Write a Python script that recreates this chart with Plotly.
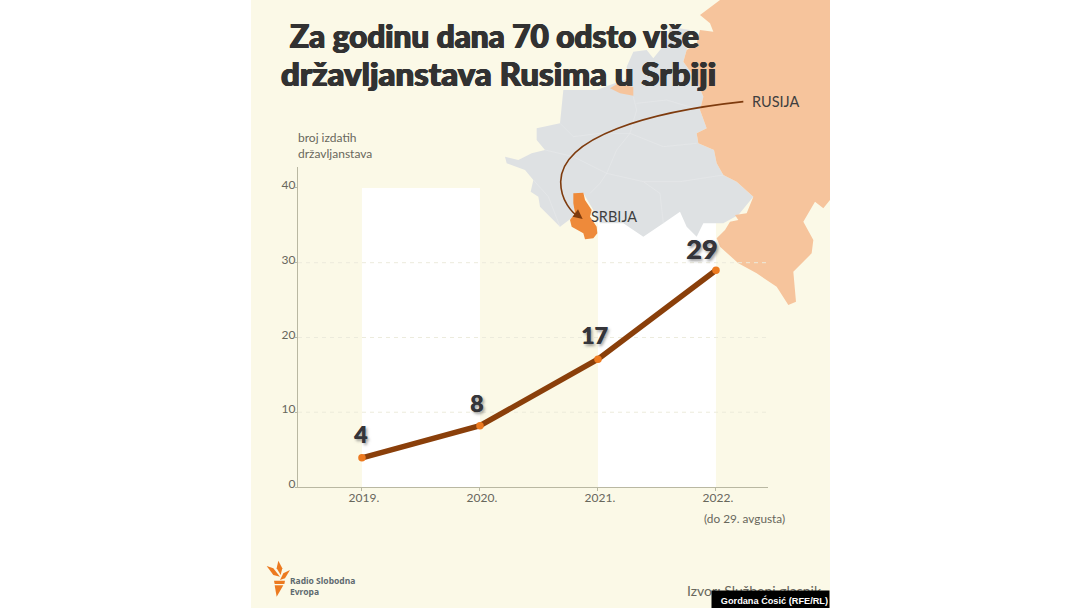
import plotly.graph_objects as go

# podaci
years = [2019, 2020, 2021, 2022]
values = [3.9, 8.2, 17.1, 29]
value_labels = ["4", "8", "17", "29"]
year_labels = ["2019.", "2020.", "2021.", "2022."]
y_ticks = [0, 10, 20, 30, 40]
grid_vals = [10, 20, 30]

W, H = 1080, 608
CREAM = "#FBF9E7"
TXT = "#68675C"
AXIS = "#B9B8A2"
BROWN = "#8A3F0A"
ORANGE = "#EC7A20"
FONT = "Lato"
Y_MAX = 42.8
Y_DOM = [(H - 487) / H, (H - 167) / H]

# karta - obrisi procitani s uvecanog isjecka (3x, pocetak 490,0)
russia = [(690,0),(1020,0),(1020,600),(1000,625),(975,605),(940,665),(970,720),(965,760),(910,815),
          (918,905),(895,915),(860,860),(800,820),(745,790),(690,740),(680,715),(705,690),(720,665),
          (745,660),(735,645),(770,640),(790,590),(740,545),(700,525),(680,490),(672,450),(625,430),
          (620,400),(650,385),(630,330),(640,290),(620,240),(580,185),(590,150),(620,130),(630,90),
          (670,95),(660,70),(630,45)]
grey = [(600,90),(540,80),(530,130),(510,150),(490,175),(470,150),(430,155),(410,200),(415,235),(360,255),
        (320,270),(220,270),(210,370),(140,385),(140,420),(165,450),(125,460),(85,480),(45,470),
        (50,490),(105,510),(130,540),(122,575),(145,590),(150,620),(210,680),(250,650),(255,580),
        (280,580),(310,630),(330,670),(400,670),(460,710),(520,670),(570,635),(590,680),(620,710),
        (640,670),(700,670),(745,645),(790,590),(740,545),(700,525),(680,490),(672,450),(625,430),
        (620,400),(650,385),(630,330),(640,290),(620,240),(580,185),(590,150)]
kaliningrad = [(360,265),(385,250),(430,262),(430,287),(390,280)]
serbia = [(250,580),(280,578),(285,600),(305,630),(300,650),(320,680),(322,700),(310,715),(285,718),
          (280,700),(245,680),(240,660),(255,640),(250,610)]
borders = [[(430,290),(440,330),(420,400),(380,450),(350,520),(330,550),(300,580)],
           [(210,370),(250,410),(330,400),(420,400),(520,440),(620,430)],
           [(165,450),(250,470),(350,520),(460,545),(570,545),(700,525)],
           [(460,545),(510,580),(520,670)],
           [(440,310),(530,300),(630,330)],
           [(130,540),(175,590),(210,680)]]

# logo (3x, pocetak 250,390)
logo_petals = [[(50,528),(70,535),(90,560),(70,555)],
               [(85,512),(97,535),(92,555),(80,535)],
               [(120,540),(100,550),(90,570),(105,565)],
               [(72,572),(105,572),(103,582),(74,582)],
               [(74,586),(100,586),(80,620)]]


def map_pt(p):
    return p[0] / 3 + 490, p[1] / 3


def logo_pt(p):
    return p[0] / 3 + 250, p[1] / 3 + 390


def path(points, conv, close=True):
    s = ""
    for i, p in enumerate(points):
        x, y = conv(p)
        s += ("M" if i == 0 else "L") + f"{x / W:.5f},{1 - y / H:.5f} "
    return s + ("Z" if close else "")


def poly(points, color, conv=map_pt):
    return dict(type="path", xref="paper", yref="paper", path=path(points, conv),
                fillcolor=color, line=dict(width=0), layer="below")


def curve(cmds):
    s = ""
    for c, pts in cmds:
        s += c
        s += " ".join(f"{map_pt(p)[0] / W:.5f},{1 - map_pt(p)[1] / H:.5f}" for p in pts) + " "
    return s


def y_paper(v):
    return Y_DOM[0] + (Y_DOM[1] - Y_DOM[0]) * v / Y_MAX


shapes = [dict(type="rect", xref="paper", yref="paper", x0=251 / W, x1=830 / W, y0=0, y1=1,
               fillcolor=CREAM, line=dict(width=0), layer="below")]
# bijele trake (yref paper da ostanu ispod karte)
for a, b in [(0, 1), (2, 3)]:
    shapes.append(dict(type="rect", xref="x", yref="paper", x0=years[a], x1=years[b],
                       y0=y_paper(0), y1=y_paper(y_ticks[-1]),
                       fillcolor="white", line=dict(width=0), layer="below"))
shapes.append(poly(grey, "#DEE1E3"))
shapes.append(poly(russia, "#F6C49C"))
shapes.append(poly(kaliningrad, "#F6C49C"))
for b in borders:
    shapes.append(dict(type="path", xref="paper", yref="paper", path=path(b, map_pt, close=False),
                       line=dict(color="#E8EAEB", width=0.6), layer="below"))
shapes.append(poly(serbia, "#EE8A3A"))
for g in grid_vals:
    shapes.append(dict(type="line", xref="paper", yref="paper", x0=298 / W, x1=768 / W,
                       y0=y_paper(g), y1=y_paper(g),
                       line=dict(color="#ECEBDC", width=1, dash="4px,4px"), layer="below"))
# strelica Rusija -> Srbija
shapes.append(dict(type="path", xref="paper", yref="paper",
                   path=curve([("M", [(760,305)]), ("C", [(480,335),(215,410),(212,545)]),
                               ("C", [(212,600),(245,640),(270,652)])]),
                   line=dict(color="#7E3B0E", width=1.6)))
shapes.append(dict(type="path", xref="paper", yref="paper",
                   path=path([(278,657),(248,650),(264,628)], map_pt),
                   fillcolor="#7E3B0E", line=dict(width=0)))
for p in logo_petals:
    shapes.append(poly(p, ORANGE, logo_pt))

fig = go.Figure()
fig.add_trace(go.Scatter(x=years, y=values, mode="lines", showlegend=False,
                         line=dict(color=BROWN, width=5.5), hoverinfo="skip"))
fig.add_trace(go.Scatter(x=years, y=values, mode="markers", showlegend=False,
                         marker=dict(color=ORANGE, size=7.5), hoverinfo="x+y"))

annotations = []


def label(text, x, y, size=12, color=TXT, anchor="left", shadow=None, **kw):
    annotations.append(dict(text=text, xref="paper", yref="paper", x=x / W, y=1 - y / H, showarrow=False,
                            xanchor=anchor, yanchor="middle", align=anchor,
                            xshift=-2 if anchor == "left" else 0,
                            font=dict(family=kw.pop("family", FONT), size=size, color=color, shadow=shadow,
                                      weight=kw.pop("weight", "normal")), **kw))


# oznake vrijednosti
shifts = [(-1, 24), (-3, 23), (-3, 24), (-14, 22)]
sizes = [23, 23, 23, 27]
for yr, v, t, (dx, dy), sz in zip(years, values, value_labels, shifts, sizes):
    annotations.append(dict(text=t, x=yr, y=v, xref="x", yref="y", showarrow=False, xshift=dx, yshift=dy,
                            font=dict(family=FONT, size=sz, color="#35353A", weight=900,
                                      shadow="0.6px 0 0 #35353A, 2px 2px 3px rgba(90,90,90,0.6)")))

# debljina naslova preko sjene, font nema teski rez
heavy = "0.7px 0 0 #323232, -0.7px 0 0 #323232, 0 0.4px 0 #323232"
label("Za godinu dana 70 odsto više", 494, 36, size=31.5, color="#323232", anchor="center",
      weight=900, shadow=heavy)
label("državljanstava Rusima u Srbiji", 498, 73, size=33, color="#323232", anchor="center",
      weight=900, shadow=heavy)
label("broj izdatih<br>državljanstava", 298, 145, size=12)
label("(do 29. avgusta)", 704, 518, size=11.8)
label("RUSIJA", 752, 101, size=14.5, color="#3F3F3F")
label("SRBIJA", 591, 217, size=14.5, color="#3F3F3F")
label("Radio Slobodna<br>Evropa", 290, 586, size=8.5, color="#5F6B70", weight="bold", family="Noto Sans")
label("Izvor: Službeni glasnik", 687, 590, size=14)
label("Gordana Ćosić (RFE/RL)", 830, 600, size=9.2, color="white", anchor="right", weight="bold",
      family="Liberation Sans", bgcolor="black", width=115, height=16)

fig.update_layout(
    width=W, height=H, autosize=False,
    margin=dict(l=0, r=0, t=0, b=0),
    paper_bgcolor="white", plot_bgcolor="rgba(0,0,0,0)",
    shapes=shapes,
    annotations=annotations,
    xaxis=dict(domain=[298 / W, 768 / W], range=[2018.458, 2022.441], tickmode="array", automargin=False,
               tickvals=years, ticktext=year_labels, showgrid=False, zeroline=False,
               showline=True, linecolor=AXIS, linewidth=1.2, ticks="outside", ticklen=3,
               ticklabelstandoff=-4, ticklabelshift=2,
               tickcolor=AXIS, tickfont=dict(family=FONT, size=12, color=TXT)),
    yaxis=dict(domain=Y_DOM, range=[0, Y_MAX], tickmode="array", automargin=False,
               tickvals=y_ticks, showgrid=False, zeroline=False, showline=True,
               linecolor=AXIS, linewidth=1.2, ticks="outside", ticklen=2, tickcolor=AXIS,
               ticklabelshift=-3, ticklabelstandoff=-3, tickfont=dict(family=FONT, size=12, color=TXT)),
)

# bez margine stranice da slika pocne u kutu
fig.write_html("out.html", config={"displayModeBar": False},
               post_script="document.body.style.margin='0';")
